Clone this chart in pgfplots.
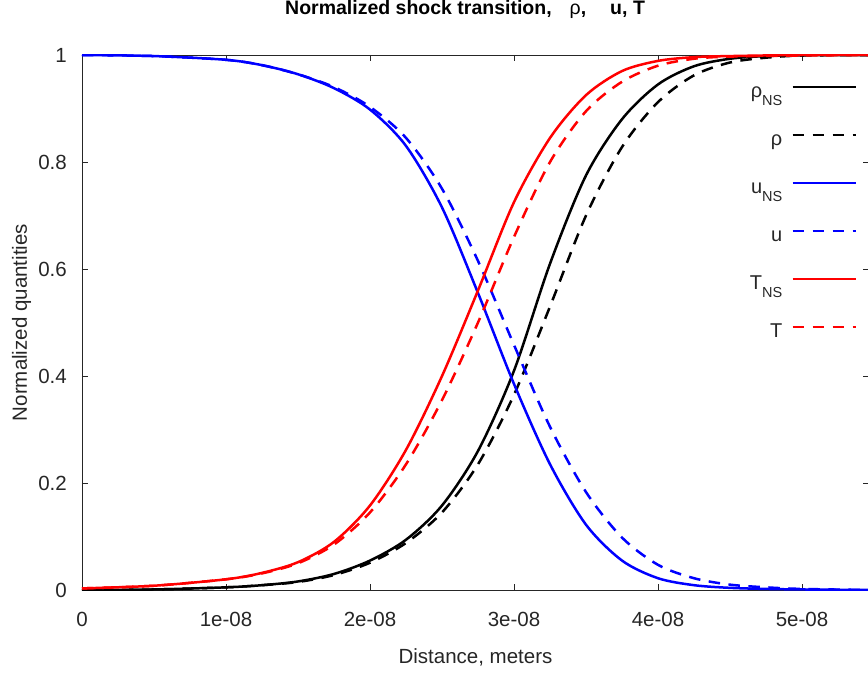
\documentclass[border=0pt]{standalone}
\usepackage{fontspec}
\setmainfont{Liberation Sans}
\usepackage{pgfplots}
\pgfplotsset{compat=1.18}
\definecolor{octgray}{RGB}{38,38,38}
\newcommand{\sub}[1]{\raisebox{-0.38em}{\fontsize{14.5}{15}\selectfont #1}}
\begin{document}
\begin{tikzpicture}
\begin{axis}[
  at={(0,0)}, anchor=south west,
  scale only axis, width=787pt, height=535pt,
  xmin=0, xmax=5.465, ymin=0, ymax=1,
  xtick={0,1,2,3,4,5},
  xticklabels={0,1e-08,2e-08,3e-08,4e-08,5e-08},
  ytick={0,0.2,0.4,0.6,0.8,1},
  yticklabels={0,0.2,0.4,0.6,0.8,1},
  tick align=inside, major tick length=6pt,
  axis line style={draw=octgray, line width=0.7pt},
  every tick/.style={draw=octgray, line width=0.7pt},
  tick label style={font=\fontsize{20.5}{24}\selectfont, text=octgray},
  xticklabel style={inner sep=0pt, anchor=north, yshift=-22pt},
  yticklabel style={inner sep=0pt, anchor=east, xshift=-15pt},
  title={Normalized shock transition,\hspace{18pt}\textnormal{ρ},\hspace{24pt}u, T},
  title style={at={(axis description cs:0.25794,1.06449)}, anchor=base west, inner sep=0pt, font=\fontsize{19.5}{24}\selectfont\bfseries, text=black},
  xlabel={Distance, meters},
  xlabel style={at={(axis description cs:0.5,-0.13645)}, anchor=base, inner sep=0pt, font=\fontsize{20.5}{24}\selectfont, text=octgray},
  ylabel={Normalized quantities},
  ylabel style={at={(axis description cs:-0.06989,0.5)}, anchor=base, inner sep=0pt, font=\fontsize{20.5}{24}\selectfont, text=octgray},
  legend plot pos=right,
  legend cell align=right,
  legend image code/.code={\draw[#1] (0pt,0pt) -- (63pt,0pt);},
  legend style={draw=none, fill=none, inner sep=0pt, at={(axis cs:5.382,0.9596)}, anchor=north east, row sep=27.2pt, column sep=9pt, font=\fontsize{20}{24}\selectfont, text=octgray, nodes={inner sep=0pt, text height=20.8pt, text depth=0pt}},
]
% rho_NS
\addplot[black, line width=2.5pt, smooth] coordinates {
(0,0.000) (0.5,0.001) (1.0,0.005) (1.25,0.009) (1.5,0.016) (1.75,0.030) (2.0,0.055) (2.25,0.094) (2.5,0.158) (2.75,0.260) (3.0,0.410) (3.25,0.610) (3.5,0.775) (3.75,0.880) (4.0,0.945) (4.25,0.979) (4.5,0.993) (4.75,0.998) (5.0,0.9995) (5.465,1.000)};
\addlegendentry{ρ\sub{NS}}
% rho
\addplot[black, line width=2.5pt, smooth, dash pattern=on 11.5pt off 8.5pt] coordinates {
(0,0.000) (0.5,0.001) (1.0,0.005) (1.25,0.009) (1.5,0.015) (1.75,0.028) (2.0,0.051) (2.25,0.088) (2.5,0.145) (2.75,0.235) (3.0,0.365) (3.25,0.530) (3.5,0.700) (3.75,0.828) (4.0,0.912) (4.25,0.962) (4.5,0.986) (4.75,0.995) (5.0,0.999) (5.465,1.000)};
\addlegendentry{ρ}
% u_NS
\addplot[blue, line width=2.5pt, smooth] coordinates {
(0,1.000) (0.5,0.998) (1.0,0.991) (1.25,0.981) (1.5,0.964) (1.75,0.938) (2.0,0.898) (2.25,0.830) (2.5,0.715) (2.75,0.555) (3.0,0.385) (3.25,0.235) (3.5,0.122) (3.75,0.055) (4.0,0.022) (4.25,0.009) (4.5,0.004) (4.75,0.002) (5.0,0.001) (5.465,0.000)};
\addlegendentry{u\sub{NS}}
% u
\addplot[blue, line width=2.5pt, smooth, dash pattern=on 11.5pt off 8.5pt] coordinates {
(0,1.000) (0.5,0.998) (1.0,0.991) (1.25,0.981) (1.5,0.964) (1.75,0.940) (2.0,0.903) (2.25,0.845) (2.5,0.750) (2.75,0.615) (3.0,0.458) (3.25,0.305) (3.5,0.183) (3.75,0.098) (4.0,0.047) (4.25,0.022) (4.5,0.010) (4.75,0.005) (5.0,0.002) (5.465,0.000)};
\addlegendentry{u}
% T_NS
\addplot[red, line width=2.5pt, smooth] coordinates {
(0,0.003) (0.5,0.008) (1.0,0.020) (1.25,0.032) (1.5,0.052) (1.75,0.090) (2.0,0.158) (2.25,0.262) (2.5,0.400) (2.75,0.560) (3.0,0.725) (3.25,0.845) (3.5,0.925) (3.75,0.970) (4.0,0.989) (4.25,0.996) (4.5,0.998) (5.0,1.000) (5.465,1.000)};
\addlegendentry{T\sub{NS}}
% T
\addplot[red, line width=2.5pt, smooth, dash pattern=on 11.5pt off 8.5pt] coordinates {
(0,0.003) (0.5,0.008) (1.0,0.020) (1.25,0.031) (1.5,0.050) (1.75,0.085) (2.0,0.145) (2.25,0.235) (2.5,0.355) (2.75,0.500) (3.0,0.660) (3.25,0.800) (3.5,0.895) (3.75,0.950) (4.0,0.980) (4.25,0.993) (4.5,0.997) (5.0,0.999) (5.465,1.000)};
\addlegendentry{T}
\end{axis}
\pgfresetboundingbox
\path[use as bounding box] (-82pt,-83pt) rectangle (786pt,590pt);
\end{tikzpicture}
\end{document}
